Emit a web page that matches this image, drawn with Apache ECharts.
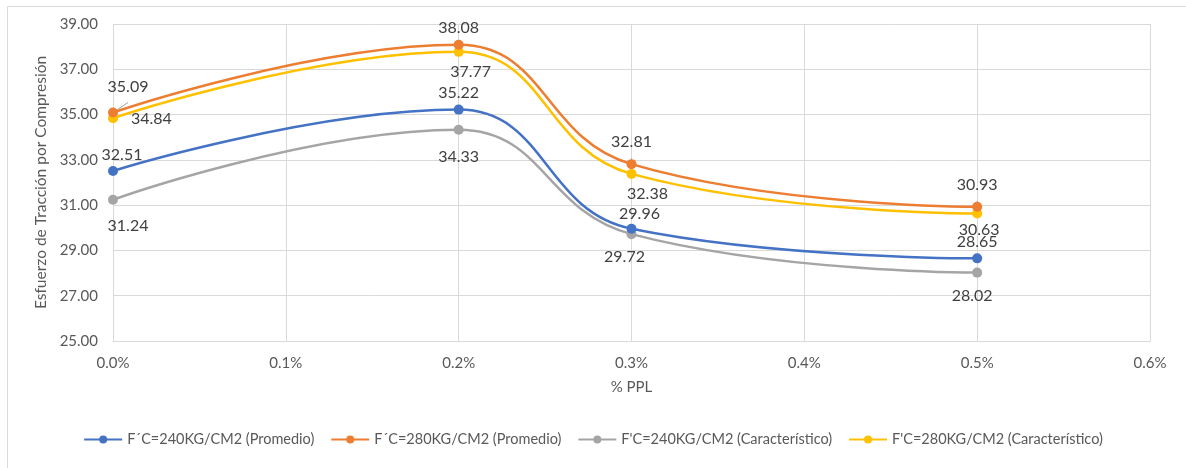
<!DOCTYPE html>
<html>
<head>
<meta charset="utf-8">
<script src="https://cdn.jsdelivr.net/npm/echarts@6/dist/echarts.min.js"></script>
<style>
  html, body { margin: 0; padding: 0; background: #fff; }
  #chart { width: 1186px; height: 468px; }
</style>
</head>
<body>
<div id="chart"></div>
<script>
// % PPL dosage (percent) for each test group
const ppl = [0.0, 0.2, 0.3, 0.5];

// Tensile strength by compression, per mix
const fc240Prom = [32.51, 35.22, 29.96, 28.65];
const fc280Prom = [35.09, 38.08, 32.81, 30.93];
const fc240Car  = [31.24, 34.33, 29.72, 28.02];
const fc280Car  = [34.84, 37.77, 32.38, 30.63];

const seriesNames = [
  'F´C=240KG/CM2 (Promedio)',
  'F´C=280KG/CM2 (Promedio)',
  "F'C=240KG/CM2 (Característico)",
  "F'C=280KG/CM2 (Característico)"
];

const colors = ['#4472C4', '#ED7D31', '#A5A5A5', '#FFC000'];
const FONT = 'Lato';
const TEXT = '#595959';

// label placement per point: [position, dx, dy]
const labelPlacement = [
  [['top', 9, 2], ['top', 0, 1], ['top', 8, 3], ['top', 0, 1]],
  [['top', 15, -8], ['top', 0, 1], ['top', 0, -4], ['top', 0, -4]],
  [['bottom', 15, 8], ['bottom', 0, 9], ['bottom', -7, 5], ['bottom', -5, 5]],
  [['right', 8, 1], ['bottom', 12, 2], ['bottom', 16, 2], ['bottom', 2, -2]]
];

function buildSeries(idx, values) {
  return {
    name: seriesNames[idx],
    type: 'line',
    smooth: 0.45,
    symbol: 'circle',
    symbolSize: 10,
    z: 10 - idx,
    lineStyle: { width: 2.5, color: colors[idx] },
    itemStyle: { color: colors[idx] },
    data: ppl.map((x, i) => {
      const p = labelPlacement[idx][i];
      return {
        value: [x, values[i]],
        label: { position: p[0], offset: [p[1], p[2]] }
      };
    }),
    label: {
      show: true,
      fontFamily: FONT,
      fontSize: 16,
      color: '#404040',
      distance: 5,
      formatter: (d) => d.value[1].toFixed(2)
    }
  };
}

const chart = echarts.init(document.getElementById('chart'), null, { renderer: 'canvas' });

chart.setOption({
  animation: false,
  backgroundColor: '#fff',
  textStyle: { fontFamily: FONT },
  graphic: [{
    type: 'rect',
    left: 5, top: 4,
    shape: { width: 1300, height: 600 },
    style: { fill: 'none', stroke: '#d9d9d9', lineWidth: 1 },
    silent: true
  }],
  grid: { left: 113, right: 36, top: 24, bottom: 127 },
  legend: {
    bottom: 16,
    left: 'center',
    itemWidth: 38,
    itemHeight: 10,
    itemGap: 16,
    textStyle: { fontFamily: FONT, fontSize: 14.5, color: TEXT },
    data: seriesNames
  },
  xAxis: {
    type: 'value',
    min: 0,
    max: 0.6,
    interval: 0.1,
    name: '% PPL',
    nameLocation: 'middle',
    nameGap: 39,
    nameTextStyle: { fontFamily: FONT, fontSize: 15, color: TEXT },
    axisLine: { show: true, lineStyle: { color: '#d9d9d9', width: 1 } },
    axisTick: { show: false },
    axisLabel: {
      fontFamily: FONT, fontSize: 15, color: TEXT, margin: 15,
      formatter: (v) => v.toFixed(1) + '%'
    },
    splitLine: { show: true, lineStyle: { color: '#d9d9d9', width: 1 } }
  },
  yAxis: {
    type: 'value',
    min: 25,
    max: 39,
    interval: 2,
    name: 'Esfuerzo de Tracción por Compresión',
    nameLocation: 'middle',
    nameGap: 64,
    nameTextStyle: { fontFamily: FONT, fontSize: 15.5, color: TEXT },
    axisLine: { show: false },
    axisTick: { show: false },
    axisLabel: {
      fontFamily: FONT, fontSize: 15, color: TEXT, margin: 15,
      formatter: (v) => v.toFixed(2)
    },
    splitLine: { show: true, lineStyle: { color: '#d9d9d9', width: 1 } }
  },
  series: [
    buildSeries(0, fc240Prom),
    Object.assign(buildSeries(1, fc280Prom), {
      labelLine: { show: true, lineStyle: { color: '#A5A5A5', width: 1 } }
    }),
    buildSeries(2, fc240Car),
    buildSeries(3, fc280Car)
  ]
});
</script>
</body>
</html>
